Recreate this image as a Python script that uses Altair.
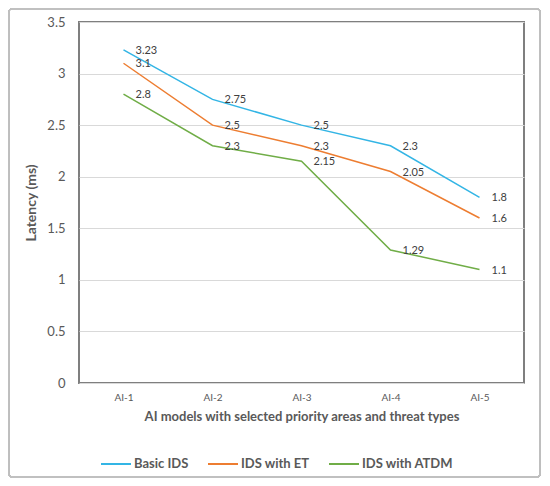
import altair as alt
import pandas as pd

categories = ["AI-1", "AI-2", "AI-3", "AI-4", "AI-5"]
basic_ids = [3.23, 2.75, 2.5, 2.3, 1.8]
ids_et = [3.1, 2.5, 2.3, 2.05, 1.6]
ids_atdm = [2.8, 2.3, 2.15, 1.29, 1.1]
series_names = ["Basic IDS", "IDS with ET", "IDS with ATDM"]
colors = ["#33B5E5", "#ED7D31", "#70AD47"]

rows = []
for name, vals in zip(series_names, [basic_ids, ids_et, ids_atdm]):
    for c, v in zip(categories, vals):
        rows.append({"model": c, "latency": v, "series": name, "label": f"{v:g}"})
df = pd.DataFrame(rows)

FONT = "Lato"
W, H = 445, 361

x = alt.X("model:N", sort=categories, scale=alt.Scale(type="point", padding=0.5),
          axis=alt.Axis(title="AI models with selected priority areas and threat types",
                        labelAngle=0, ticks=False, domain=False, labelPadding=9,
                        labelFontSize=10, labelColor="#595959", labelFont=FONT,
                        titleFont=FONT, titleFontSize=13, titleFontWeight="bold",
                        titleColor="#595959", titlePadding=8, grid=False))
y = alt.Y("latency:Q", scale=alt.Scale(domain=[0, 3.5]),
          axis=alt.Axis(title="Latency (ms)", values=[0, 0.5, 1, 1.5, 2, 2.5, 3, 3.5],
                        format="~g", ticks=False, domain=False, labelPadding=14,
                        labelFontSize=13, labelColor="#595959", labelFont=FONT,
                        titleFont=FONT, titleFontSize=14, titleFontWeight="bold",
                        titleColor="#595959", titlePadding=8,
                        gridColor="#D9D9D9", gridWidth=1))
color = alt.Color("series:N", sort=series_names,
                  scale=alt.Scale(domain=series_names, range=colors),
                  legend=alt.Legend(title=None, orient="none", direction="horizontal",
                                    legendX=21, legendY=426, symbolType="stroke",
                                    symbolSize=900, symbolStrokeWidth=2,
                                    labelFont=FONT, labelFontSize=13,
                                    labelFontWeight="bold", labelColor="#595959",
                                    labelOffset=2, columnPadding=15))

lines = alt.Chart(df).mark_line(strokeWidth=1.5).encode(x=x, y=y, color=color)
labels = alt.Chart(df).mark_text(align="left", baseline="middle", dx=12, dy=1,
                                 font=FONT, fontSize=11, color="#404040").encode(
    x=alt.X("model:N", sort=categories), y="latency:Q", text="label:N")

frame = alt.Chart(df).mark_rect(fill=None, stroke="#BFBFBF", strokeWidth=1.2,
                                cornerRadius=3).encode(
    x=alt.value(-70), x2=alt.value(W + 16), y=alt.value(-13), y2=alt.value(H + 94))

chart = alt.layer(frame, lines, labels).properties(
    width=W, height=H,
    autosize=alt.AutoSizeParams(type="none"),
    padding={"left": 71, "top": 14, "right": 18, "bottom": 100},
    background="white",
).configure_view(stroke="#7F7F7F", strokeWidth=2)

chart.save("out.html", embed_options={"renderer": "svg", "actions": False})
